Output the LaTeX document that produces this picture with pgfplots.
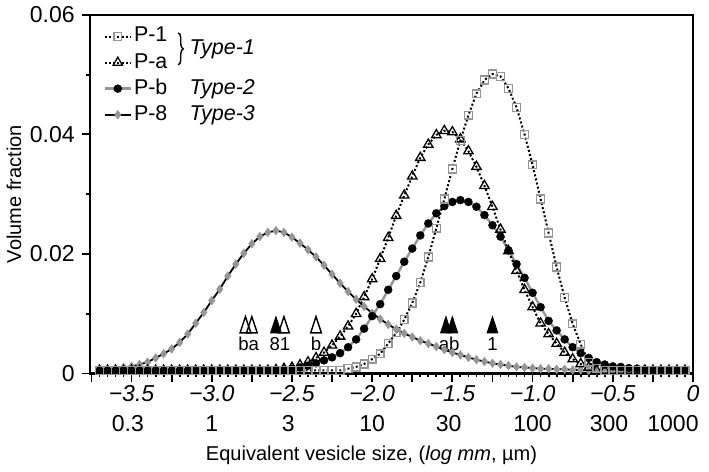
\documentclass[border=0pt]{standalone}
\usepackage{fontspec}
\setmainfont{Liberation Sans}
\usepackage{pgfplots}
\pgfplotsset{compat=1.18}
\usepackage{pgfplotstable}
\usetikzlibrary{decorations.pathreplacing}
\definecolor{mgray}{RGB}{150,150,150}

\pgfplotstableread{
x p1 pa pb p8
-3.70 0.0005 0.0005 0.0005 0.0006
-3.65 0.0005 0.0005 0.0005 0.0007
-3.60 0.0005 0.0005 0.0005 0.0008
-3.55 0.0005 0.0005 0.0005 0.0010
-3.50 0.0005 0.0005 0.0005 0.0012
-3.45 0.0005 0.0005 0.0005 0.0015
-3.40 0.0005 0.0005 0.0005 0.0019
-3.35 0.0005 0.0005 0.0005 0.0026
-3.30 0.0005 0.0005 0.0005 0.0033
-3.25 0.0005 0.0005 0.0005 0.0041
-3.20 0.0005 0.0005 0.0005 0.0052
-3.15 0.0005 0.0005 0.0005 0.0066
-3.10 0.0005 0.0005 0.0005 0.0084
-3.05 0.0005 0.0005 0.0005 0.0102
-3.00 0.0005 0.0005 0.0005 0.0122
-2.95 0.0005 0.0005 0.0005 0.0141
-2.90 0.0005 0.0005 0.0005 0.0163
-2.85 0.0005 0.0005 0.0005 0.0183
-2.80 0.0005 0.0005 0.0005 0.0201
-2.75 0.0005 0.0005 0.0005 0.0217
-2.70 0.0005 0.0005 0.0005 0.0229
-2.65 0.0005 0.0005 0.0005 0.0236
-2.60 0.0005 0.0006 0.0006 0.0239
-2.55 0.0005 0.0008 0.0007 0.0236
-2.50 0.0005 0.0010 0.0008 0.0228
-2.45 0.0005 0.0014 0.0010 0.0218
-2.40 0.0005 0.0019 0.0013 0.0207
-2.35 0.0005 0.0026 0.0017 0.0195
-2.30 0.0005 0.0035 0.0022 0.0181
-2.25 0.0005 0.0047 0.0027 0.0166
-2.20 0.0005 0.0062 0.0034 0.0151
-2.15 0.0008 0.0079 0.0044 0.0137
-2.10 0.0011 0.0100 0.0057 0.0124
-2.05 0.0016 0.0128 0.0075 0.0112
-2.00 0.0024 0.0158 0.0096 0.0101
-1.95 0.0033 0.0192 0.0116 0.0091
-1.90 0.0050 0.0227 0.0140 0.0082
-1.85 0.0068 0.0264 0.0163 0.0074
-1.80 0.0090 0.0298 0.0187 0.0067
-1.75 0.0118 0.0330 0.0209 0.0061
-1.70 0.0152 0.0361 0.0231 0.0055
-1.65 0.0195 0.0383 0.0251 0.0050
-1.60 0.0243 0.0399 0.0268 0.0045
-1.55 0.0292 0.0406 0.0280 0.0040
-1.50 0.0342 0.0404 0.0287 0.0035
-1.45 0.0390 0.0392 0.0290 0.0031
-1.40 0.0432 0.0372 0.0287 0.0027
-1.35 0.0468 0.0346 0.0279 0.0023
-1.30 0.0491 0.0314 0.0265 0.0020
-1.25 0.0501 0.0279 0.0248 0.0017
-1.20 0.0497 0.0241 0.0229 0.0015
-1.15 0.0477 0.0205 0.0206 0.0013
-1.10 0.0445 0.0172 0.0183 0.0011
-1.05 0.0400 0.0140 0.0160 0.0010
-1.00 0.0349 0.0111 0.0135 0.0009
-0.95 0.0292 0.0084 0.0111 0.0008
-0.90 0.0235 0.0066 0.0088 0.0008
-0.85 0.0178 0.0050 0.0072 0.0007
-0.80 0.0127 0.0035 0.0057 0.0007
-0.75 0.0083 0.0024 0.0044 0.0006
-0.70 0.0049 0.0016 0.0034 0.0006
-0.65 0.0019 0.0010 0.0026 0.0005
-0.60 0.0008 0.0005 0.0019 0.0005
-0.55 0.0005 0.0005 0.0015 0.0005
-0.50 0.0005 0.0005 0.0012 0.0005
-0.45 0.0005 0.0005 0.0011 0.0005
-0.40 0.0005 0.0005 0.0009 0.0005
-0.35 0.0005 0.0005 0.0008 0.0005
-0.30 0.0005 0.0005 0.0007 0.0005
-0.25 0.0005 0.0005 0.0006 0.0005
-0.20 0.0005 0.0005 0.0005 0.0005
-0.15 0.0005 0.0005 0.0005 0.0005
-0.10 0.0005 0.0005 0.0005 0.0005
-0.05 0.0005 0.0005 0.0005 0.0005
}\datatable

\pgfplotstableread{
x y
-2.60 0.0077
-1.54 0.0077
-1.50 0.0077
-1.25 0.0077
}\filledarrows

\pgfplotstableread{
x y
-2.79 0.0077
-2.75 0.0077
-2.55 0.0077
-2.35 0.0077
}\openarrows

\newcommand{\tfont}{\fontsize{11.5}{13.8}\selectfont}
\newcommand{\xlfont}{\fontsize{12.2}{14.6}\selectfont}
\newcommand{\lfont}{\fontsize{10.7}{12.8}\selectfont}
\newcommand{\sfont}{\fontsize{9.3}{11}\selectfont}

\begin{document}
\begin{tikzpicture}
\begin{axis}[
  width=301pt, height=179pt, scale only axis,
  xmin=-3.76, xmax=0, ymin=0, ymax=0.06,
  clip=false,
  axis line style={line width=1.1pt},
  tick style={line width=0.9pt, black},
  tick align=outside,
  xtick pos=bottom, ytick pos=left,
  major tick length=4pt, minor tick length=2pt,
  xtick={-3.75,-3.5,-3.25,-3,-2.75,-2.5,-2.25,-2,-1.75,-1.5,-1.25,-1,-0.75,-0.5,-0.25,0},
  xticklabels={{},{\textit{−3.5}},{},{\textit{−3.0}},{},{\textit{−2.5}},{},{\textit{−2.0}},{},{\textit{−1.5}},{},{\textit{−1.0}},{},{\textit{−0.5}},{},{\textit{0}}},
  minor x tick num=4,
  ytick={0,0.02,0.04,0.06},
  yticklabels={0,0.02,0.04,0.06},
  minor y tick num=1,
  scaled y ticks=false,
  tick label style={font=\tfont},
  xticklabel style={yshift=1.5pt},
  xlabel style={font=\xlfont},
  ylabel style={font=\tfont},
  xlabel={Equivalent vesicle size, (\textit{log mm}, µm)},
  ylabel={Volume fraction},
  every axis x label/.style={at={(axis description cs:0.467,-0.229)}, anchor=center},
  every axis y label/.style={at={(axis description cs:-0.1257,0.5)}, rotate=90, anchor=center},
  reverse legend,
  legend cell align=left,
  legend style={draw=none, fill=none, at={(axis description cs:0.0221,0.9735)}, anchor=north west,
    inner sep=0pt, row sep=1.2pt, font=\lfont,
    nodes={inner sep=1pt, text height=7.6pt, text depth=2.2pt},
    /tikz/every even column/.append style={column sep=2pt}},
  legend image code/.code={\draw[mark repeat=2,mark phase=2] plot coordinates {(0pt,0pt) (6.5pt,0pt) (13pt,0pt)};},
]
% P-8
\addplot[black, line width=0.9pt, mark=diamond*, mark size=2.1pt,
  mark options={solid, fill=mgray, draw=mgray, line width=0.3pt}]
  table[x=x, y=p8] {\datatable};
\addlegendentry{P-8}
% P-b
\addplot[mgray, line width=1.2pt, mark=*, mark size=2pt,
  mark options={solid, fill=black, draw=black, line width=0.2pt}]
  table[x=x, y=pb] {\datatable};
\addlegendentry{P-b}
% P-a
\addplot[black, line width=1pt, dash pattern=on 1pt off 1.1pt, mark=triangle, mark size=2.7pt,
  mark options={solid, fill=white, draw=black, line width=0.65pt}]
  table[x=x, y=pa] {\datatable};
\addlegendentry{P-a}
% P-1
\addplot[black, line width=1pt, dash pattern=on 1pt off 1.1pt, mark=square, mark size=1.95pt,
  mark options={solid, fill=white, draw=mgray, line width=0.7pt}]
  table[x=x, y=p1] {\datatable};
\addlegendentry{P-1}

% mode arrows
\addplot[forget plot, only marks, mark=triangle*, mark size=3.1pt,
  mark options={yscale=1.75, fill=black, draw=black, line width=0.4pt}]
  table[x=x, y=y] {\filledarrows};
\addplot[forget plot, only marks, mark=triangle, mark size=3.1pt,
  mark options={yscale=1.75, fill=white, draw=black, line width=0.7pt}]
  table[x=x, y=y] {\openarrows};

\node[font=\sfont, inner sep=0pt] at (axis cs:-2.77,0.0049) {ba};
\node[font=\sfont, inner sep=0pt] at (axis cs:-2.575,0.0049) {81};
\node[font=\sfont, inner sep=0pt] at (axis cs:-2.35,0.0049) {b};
\node[font=\sfont, inner sep=0pt] at (axis cs:-1.52,0.0049) {ab};
\node[font=\sfont, inner sep=0pt] at (axis cs:-1.25,0.0049) {1};

% second row of x labels (micrometres)
\node[font=\tfont, anchor=base, inner sep=0pt, yshift=-29pt] at (axis cs:-3.523,0) {0.3};
\node[font=\tfont, anchor=base, inner sep=0pt, yshift=-29pt] at (axis cs:-3,0) {1};
\node[font=\tfont, anchor=base, inner sep=0pt, yshift=-29pt] at (axis cs:-2.523,0) {3};
\node[font=\tfont, anchor=base, inner sep=0pt, yshift=-29pt] at (axis cs:-2,0) {10};
\node[font=\tfont, anchor=base, inner sep=0pt, yshift=-29pt] at (axis cs:-1.523,0) {30};
\node[font=\tfont, anchor=base, inner sep=0pt, yshift=-29pt] at (axis cs:-1,0) {100};
\node[font=\tfont, anchor=base, inner sep=0pt, yshift=-29pt] at (axis cs:-0.523,0) {300};
\node[font=\tfont, anchor=base east, inner sep=0pt, yshift=-29pt, xshift=3pt] at (axis cs:0,0) {1000};
\path (rel axis cs:1,0) ++(8pt,0pt) coordinate (bbr);

% type annotations
\draw[line width=0.7pt, decorate, decoration={brace, amplitude=2.5pt}]
  (rel axis cs:0.1466,0.9497) -- (rel axis cs:0.1466,0.8603);
\node[font=\lfont\itshape, anchor=base west, inner sep=0pt] at (rel axis cs:0.1649,0.8897) {Type-1};
\node[font=\lfont\itshape, anchor=base west, inner sep=0pt] at (rel axis cs:0.1649,0.7779) {Type-2};
\node[font=\lfont\itshape, anchor=base west, inner sep=0pt] at (rel axis cs:0.1649,0.7053) {Type-3};
\end{axis}
\end{tikzpicture}
\end{document}
